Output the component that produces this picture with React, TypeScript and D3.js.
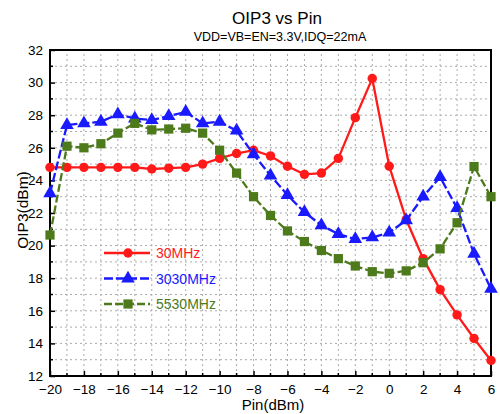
import { useEffect, useRef } from "react";
import * as d3 from "d3";

const pin = [-20, -19, -18, -17, -16, -15, -14, -13, -12, -11, -10, -9, -8, -7, -6, -5, -4, -3, -2, -1, 0, 1, 2, 3, 4, 5, 6];

const oip3_30 = [24.8, 24.8, 24.8, 24.8, 24.8, 24.8, 24.7, 24.75, 24.8, 25.0, 25.35, 25.65, 25.85, 25.5, 24.87, 24.37, 24.45, 25.35, 27.85, 30.25, 24.87, 21.6, 19.2, 17.3, 15.75, 14.3, 12.95];
const oip3_3030 = [23.2, 27.4, 27.5, 27.6, 28.05, 27.8, 27.7, 27.95, 28.2, 27.5, 27.6, 27.05, 25.6, 24.3, 23.1, 22.05, 21.25, 20.7, 20.4, 20.5, 20.8, 21.55, 23.0, 24.2, 22.3, 19.5, 17.35];
const oip3_5530 = [20.65, 26.1, 26.0, 26.25, 26.9, 27.5, 27.1, 27.15, 27.2, 26.9, 25.85, 24.45, 23.0, 21.85, 20.9, 20.25, 19.7, 19.2, 18.75, 18.4, 18.3, 18.45, 18.95, 19.8, 21.4, 24.85, 23.0];

const seriesNames = ["30MHz", "3030MHz", "5530MHz"];
const xTicks = [-20, -18, -16, -14, -12, -10, -8, -6, -4, -2, 0, 2, 4, 6];
const yTicks = [12, 14, 16, 18, 20, 22, 24, 26, 28, 30, 32];

export default function App() {
  const svgRef = useRef<SVGSVGElement>(null);

  useEffect(() => {
    if (!svgRef.current) return;
    const width = 500;
    const height = 414;
    const margin = { top: 50, right: 9, bottom: 38, left: 50 };
    const font = "Liberation Sans, Arial, sans-serif";

    const svg = d3.select(svgRef.current);
    svg.selectAll("*").remove();

    const x = d3.scaleLinear().domain([-20, 6]).range([margin.left, width - margin.right]);
    const y = d3.scaleLinear().domain([12, 32]).range([height - margin.bottom, margin.top]);

    svg.append("rect").attr("width", width).attr("height", height).attr("fill", "#fff");

    // grid every unit
    const grid = svg.append("g");
    d3.range(-19, 6).forEach((v) => {
      grid.append("line")
        .attr("x1", x(v)).attr("x2", x(v))
        .attr("y1", y(12)).attr("y2", y(32))
        .attr("stroke", "#aaa").attr("stroke-width", 1).attr("stroke-dasharray", "2,3");
    });
    d3.range(13, 32).forEach((v) => {
      grid.append("line")
        .attr("x1", x(-20)).attr("x2", x(6))
        .attr("y1", y(v)).attr("y2", y(v))
        .attr("stroke", "#aaa").attr("stroke-width", 1).attr("stroke-dasharray", "2,3");
    });

    // axes (inward ticks)
    const xAxis = d3.axisBottom(x).tickValues(xTicks).tickSizeInner(-5).tickSizeOuter(0).tickPadding(8);
    const gx = svg.append("g").attr("transform", `translate(0,${y(12)})`).call(xAxis);
    const yAxis = d3.axisLeft(y).tickValues(yTicks).tickSizeInner(-5).tickSizeOuter(0).tickPadding(7);
    const gy = svg.append("g").attr("transform", `translate(${x(-20)},0)`).call(yAxis);
    [gx, gy].forEach((g) => {
      g.select(".domain").remove();
      g.selectAll("line").attr("stroke", "#000").attr("stroke-width", 1.5);
      g.selectAll("text").attr("font-family", font).attr("font-size", 13.5).attr("fill", "#000");
    });
    // minor ticks
    d3.range(-19, 6, 2).forEach((v) => {
      svg.append("line").attr("x1", x(v)).attr("x2", x(v)).attr("y1", y(12)).attr("y2", y(12) - 3)
        .attr("stroke", "#000").attr("stroke-width", 1.5);
    });
    d3.range(13, 32, 2).forEach((v) => {
      svg.append("line").attr("x1", x(-20)).attr("x2", x(-20) + 3).attr("y1", y(v)).attr("y2", y(v))
        .attr("stroke", "#000").attr("stroke-width", 1.5);
    });

    // frame
    svg.append("rect")
      .attr("x", x(-20)).attr("y", y(32))
      .attr("width", x(6) - x(-20)).attr("height", y(12) - y(32))
      .attr("fill", "none").attr("stroke", "#000").attr("stroke-width", 2);

    const series = [
      { name: seriesNames[0], values: oip3_30, color: "#ff1a1a", dash: null, shape: "circle" },
      { name: seriesNames[1], values: oip3_3030, color: "#1a1aff", dash: "9,3", shape: "triangle" },
      { name: seriesNames[2], values: oip3_5530, color: "#4d7a1a", dash: "8,3", shape: "square" },
    ];

    const symbolFor = (shape: string) =>
      shape === "circle" ? d3.symbol().type(d3.symbolCircle).size(70)
        : shape === "triangle" ? d3.symbol().type(d3.symbolTriangle).size(80)
          : d3.symbol().type(d3.symbolSquare).size(85);

    const line = d3.line<number>().x((d, i) => x(pin[i])).y((d) => y(d));

    series.forEach((s) => {
      svg.append("path")
        .attr("d", line(s.values))
        .attr("fill", "none")
        .attr("stroke", s.color)
        .attr("stroke-width", 2.3)
        .attr("stroke-dasharray", s.dash);
      const sym = symbolFor(s.shape);
      svg.append("g").selectAll("path")
        .data(s.values)
        .enter()
        .append("path")
        .attr("d", sym() as string)
        .attr("transform", (d, i) => `translate(${x(pin[i])},${y(d)})`)
        .attr("fill", s.color);
    });

    // legend
    series.forEach((s, i) => {
      const ly = 253 + i * 25.5;
      svg.append("line").attr("x1", 104).attr("x2", 150).attr("y1", ly).attr("y2", ly)
        .attr("stroke", s.color).attr("stroke-width", 2.3).attr("stroke-dasharray", s.dash);
      svg.append("path").attr("d", symbolFor(s.shape)() as string)
        .attr("transform", `translate(128,${ly})`).attr("fill", s.color);
      svg.append("text").attr("x", 156).attr("y", ly + 5)
        .attr("font-family", font).attr("font-size", 14).attr("fill", s.color).text(s.name);
    });

    // titles
    svg.append("text").attr("x", 277).attr("y", 24).attr("text-anchor", "middle")
      .attr("font-family", font).attr("font-size", 17).text("OIP3 vs Pin");
    svg.append("text").attr("x", 280).attr("y", 41).attr("text-anchor", "middle")
      .attr("font-family", font).attr("font-size", 12.5).text("VDD=VB=EN=3.3V,IDQ=22mA");
    svg.append("text").attr("x", 273).attr("y", 410).attr("text-anchor", "middle")
      .attr("font-family", font).attr("font-size", 15).text("Pin(dBm)");
    svg.append("text").attr("transform", `translate(28,210) rotate(-90)`)
      .attr("text-anchor", "middle")
      .attr("font-family", font).attr("font-size", 15.5).text("OIP3(dBm)");
  }, []);

  return (
    <div style={{ position: "absolute", left: 0, top: 0 }}>
      <svg ref={svgRef} width={500} height={414}></svg>
    </div>
  );
}
